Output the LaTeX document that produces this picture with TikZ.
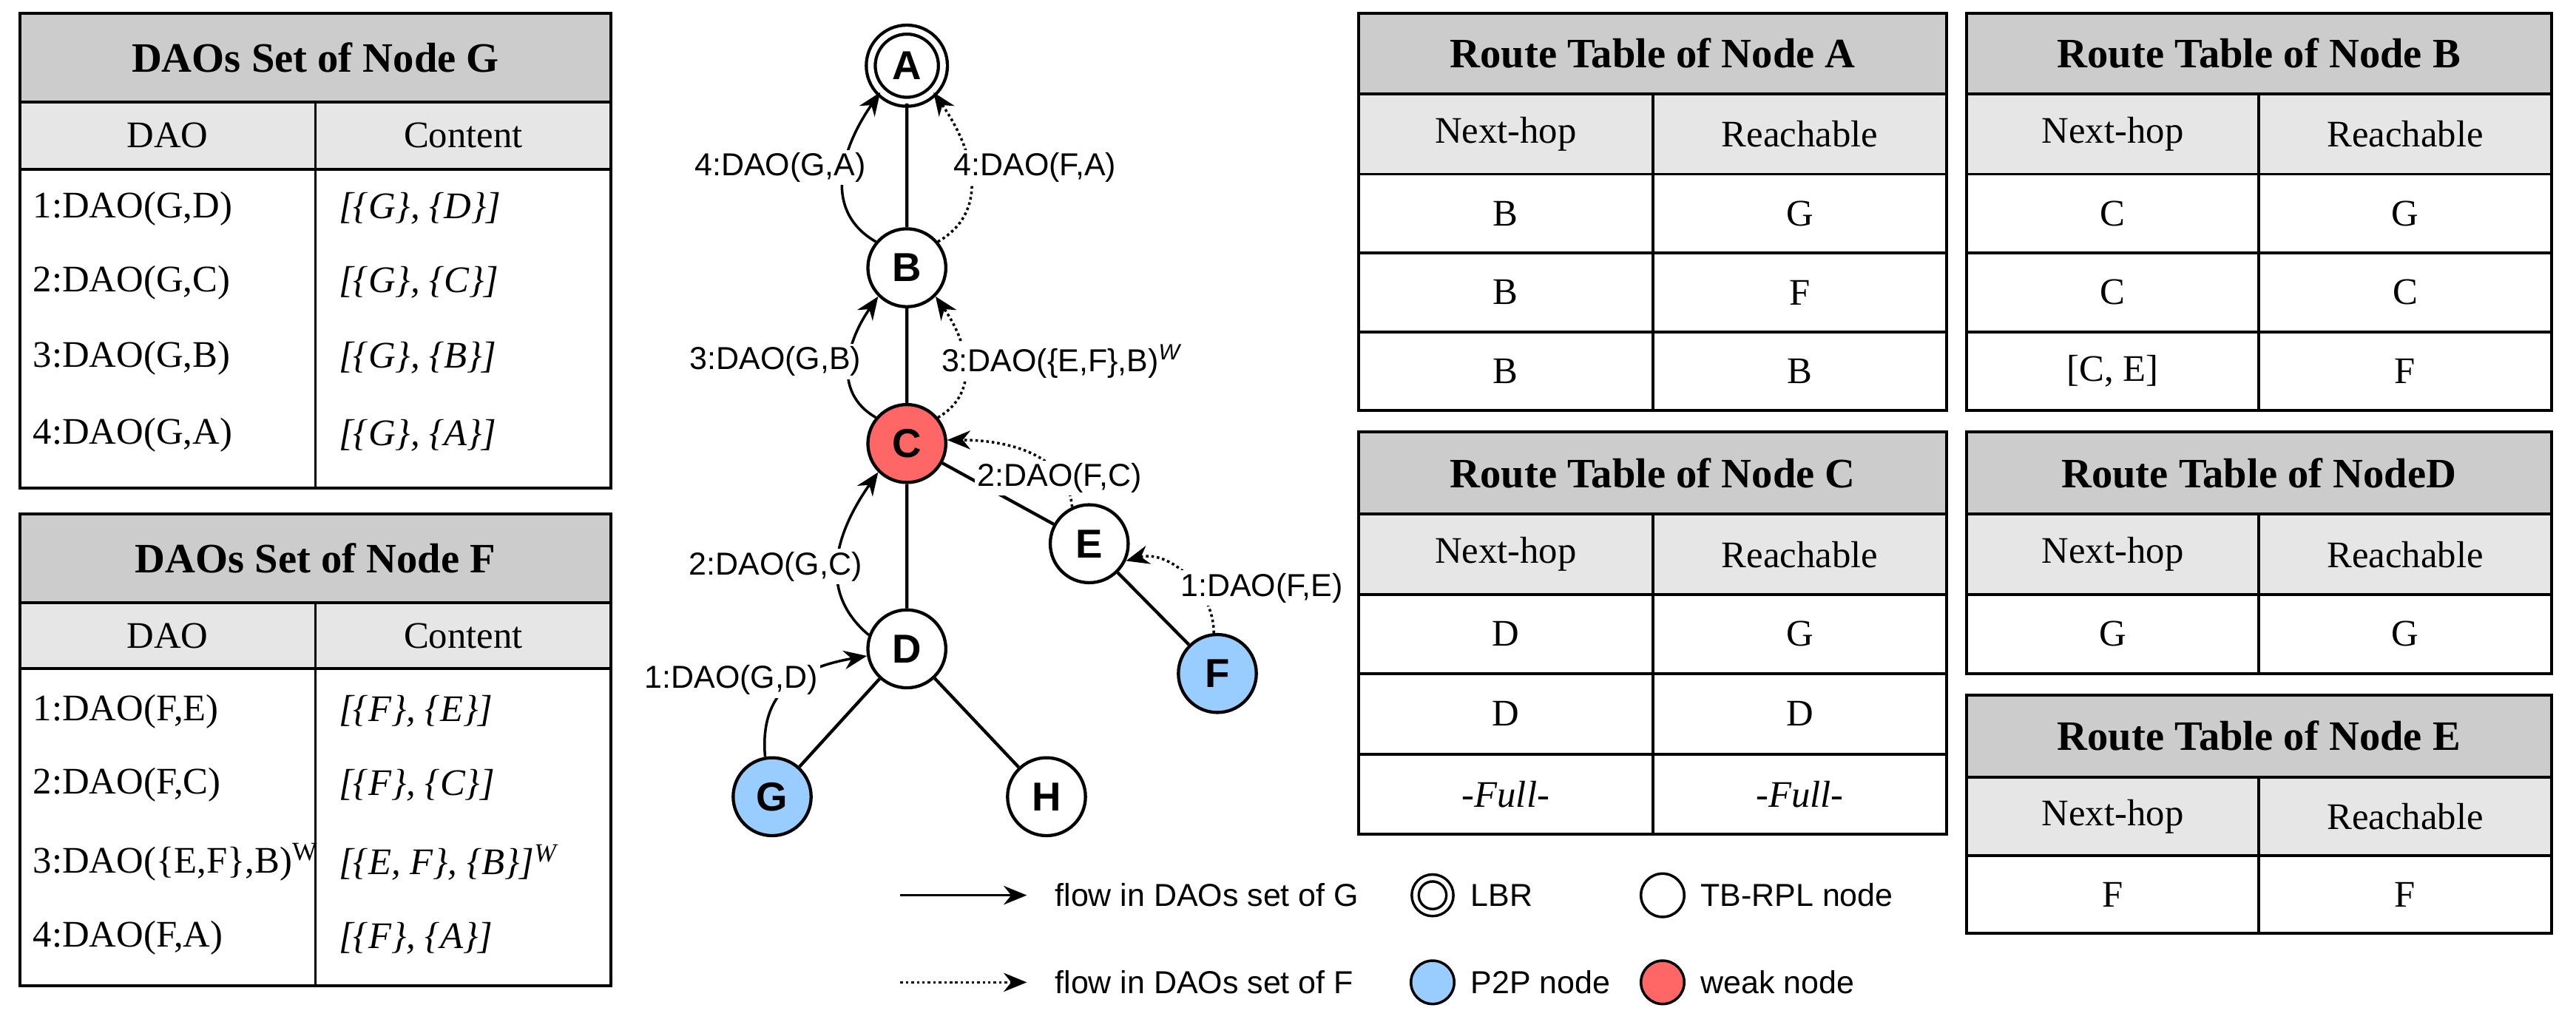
\documentclass[tikz,border=0pt]{standalone}
\usepackage{fontspec}
\setmainfont{Liberation Serif}
\newfontfamily\sff{Liberation Sans}
\usetikzlibrary{arrows.meta}
\definecolor{tg}{HTML}{CCCCCC}
\definecolor{th}{HTML}{E6E6E6}
\definecolor{pb}{HTML}{99CCFF}
\definecolor{wr}{HTML}{FF6666}
\tikzset{
 tt/.style={font=\fontsize{14.5}{16}\selectfont\bfseries},
 tb/.style={font=\fontsize{13}{15}\selectfont},
 ti/.style={font=\fontsize{13}{15}\selectfont\itshape},
 gn/.style={circle,draw,line width=1.1pt,minimum size=27pt,inner sep=0pt,fill=white,font=\sff\fontsize{14}{16}\selectfont\bfseries},
 lb/.style={font=\sff\fontsize{11}{13}\selectfont,fill=white,inner sep=1pt},
 lg/.style={font=\sff\fontsize{11}{13}\selectfont,anchor=west},
 fl/.style={-{Stealth[length=8pt,width=6.5pt]},line width=0.9pt},
 fd/.style={-{Stealth[length=8pt,width=6.5pt]},line width=0.9pt,densely dotted},
 ed/.style={line width=1.1pt},
 lc/.style={circle,draw,line width=0.9pt,minimum size=15pt,inner sep=0pt},
}
\newcommand{\ttitle}[5]{% x1 x2 y1 y2 text
 \fill[tg] (#1,#3) rectangle (#2,#4);
 \node[tt] at ({(#1+#2)/2},{(#3+#4)/2}) {#5};}
\newcommand{\thead}[6]{% x1 xs x2 y1 y2 first
 \fill[th] (#1,#4) rectangle (#3,#5);
 \node[tb] at ({(#1+#2)/2},{(#4+#5)/2}) {#6};}
\begin{document}
\begin{tikzpicture}[x=0.02cm,y=-0.02cm]
\useasboundingbox (0,0) rectangle (1568,622);
% ---- DAOs set of G
\ttitle{12}{372}{8}{62}{DAOs Set of Node G}
\thead{12}{192}{372}{62}{103}{DAO}
\node[tb] at (282,82.5) {Content};
\draw[line width=1pt] (12,8) rectangle (372,297);
\draw[line width=1pt] (12,62) -- (372,62) (12,103) -- (372,103) (192,62) -- (192,297);
\node[tb,anchor=west] at (14,127) {1:DAO(G,D)};
\node[tb,anchor=west] at (14,172) {2:DAO(G,C)};
\node[tb,anchor=west] at (14,218) {3:DAO(G,B)};
\node[tb,anchor=west] at (14,265) {4:DAO(G,A)};
\node[ti,anchor=west] at (200,127) {[\{G\}, \{D\}]};
\node[ti,anchor=west] at (200,172) {[\{G\}, \{C\}]};
\node[ti,anchor=west] at (200,218) {[\{G\}, \{B\}]};
\node[ti,anchor=west] at (200,265) {[\{G\}, \{A\}]};
% ---- DAOs set of F
\ttitle{12}{372}{313}{367}{DAOs Set of Node F}
\thead{12}{192}{372}{367}{407}{DAO}
\node[tb] at (282,387) {Content};
\draw[line width=1pt] (12,313) rectangle (372,600);
\draw[line width=1pt] (12,367) -- (372,367) (12,407) -- (372,407) (192,367) -- (192,600);
\node[tb,anchor=west] at (14,433) {1:DAO(F,E)};
\node[tb,anchor=west] at (14,478) {2:DAO(F,C)};
\node[tb,anchor=west] at (14,525) {3:DAO(\{E,F\},B)\textsuperscript{W}};
\node[tb,anchor=west] at (14,571) {4:DAO(F,A)};
\node[ti,anchor=west] at (200,433) {[\{F\}, \{E\}]};
\node[ti,anchor=west] at (200,478) {[\{F\}, \{C\}]};
\node[ti,anchor=west] at (200,525) {[\{E, F\}, \{B\}]\textsuperscript{W}};
\node[ti,anchor=west] at (200,571) {[\{F\}, \{A\}]};
% ---- Route tables
% A
\ttitle{827}{1185}{8}{57}{Route Table of Node A}
\thead{827}{1006}{1185}{57}{106}{Next-hop}\node[tb] at (1095.5,81.5) {Reachable};
\draw[line width=1pt] (827,8) rectangle (1185,250);
\draw[line width=1pt] (827,57)--(1185,57) (827,106)--(1185,106) (827,154)--(1185,154) (827,202)--(1185,202) (1006,57)--(1006,250);
\node[tb] at (916.5,130) {B};\node[tb] at (1095.5,130) {G};
\node[tb] at (916.5,178) {B};\node[tb] at (1095.5,178) {F};
\node[tb] at (916.5,226) {B};\node[tb] at (1095.5,226) {B};
% B
\ttitle{1197}{1553}{8}{57}{Route Table of Node B}
\thead{1197}{1375}{1553}{57}{106}{Next-hop}\node[tb] at (1464,81.5) {Reachable};
\draw[line width=1pt] (1197,8) rectangle (1553,250);
\draw[line width=1pt] (1197,57)--(1553,57) (1197,106)--(1553,106) (1197,154)--(1553,154) (1197,202)--(1553,202) (1375,57)--(1375,250);
\node[tb] at (1286,130) {C};\node[tb] at (1464,130) {G};
\node[tb] at (1286,178) {C};\node[tb] at (1464,178) {C};
\node[tb] at (1286,226) {[C, E]};\node[tb] at (1464,226) {F};
% C
\ttitle{827}{1185}{263}{313}{Route Table of Node C}
\thead{827}{1006}{1185}{313}{362}{Next-hop}\node[tb] at (1095.5,337.5) {Reachable};
\draw[line width=1pt] (827,263) rectangle (1185,508);
\draw[line width=1pt] (827,313)--(1185,313) (827,362)--(1185,362) (827,410)--(1185,410) (827,459)--(1185,459) (1006,313)--(1006,508);
\node[tb] at (916.5,386) {D};\node[tb] at (1095.5,386) {G};
\node[tb] at (916.5,434.5) {D};\node[tb] at (1095.5,434.5) {D};
\node[ti] at (916.5,483.5) {-Full-};\node[ti] at (1095.5,483.5) {-Full-};
% D
\ttitle{1197}{1553}{263}{313}{Route Table of NodeD}
\thead{1197}{1375}{1553}{313}{362}{Next-hop}\node[tb] at (1464,337.5) {Reachable};
\draw[line width=1pt] (1197,263) rectangle (1553,410);
\draw[line width=1pt] (1197,313)--(1553,313) (1197,362)--(1553,362) (1375,313)--(1375,410);
\node[tb] at (1286,386) {G};\node[tb] at (1464,386) {G};
% E
\ttitle{1197}{1553}{423}{473}{Route Table of Node E}
\thead{1197}{1375}{1553}{473}{521}{Next-hop}\node[tb] at (1464,497) {Reachable};
\draw[line width=1pt] (1197,423) rectangle (1553,568);
\draw[line width=1pt] (1197,473)--(1553,473) (1197,521)--(1553,521) (1375,473)--(1375,568);
\node[tb] at (1286,544.5) {F};\node[tb] at (1464,544.5) {F};
% ---- Graph
\node[gn,double,double distance=2pt,minimum size=25pt] (A) at (552,40) {A};
\node[gn] (B) at (552,163) {B};
\node[gn,fill=wr] (C) at (552,270) {C};
\node[gn] (D) at (552,395) {D};
\node[gn] (E) at (663,331) {E};
\node[gn,fill=pb] (F) at (741,410) {F};
\node[gn,fill=pb] (G) at (470,485) {G};
\node[gn] (H) at (637,485) {H};
\draw[ed] (A)--(B) (B)--(C) (C)--(D) (C)--(E) (E)--(F) (D)--(G) (D)--(H);
\draw[fl] (B.140) to[out=150,in=235,looseness=1.1] (A.225);
\draw[fd] (B.40) to[out=30,in=-55,looseness=1.1] (A.-45);
\draw[fl] (C.140) to[out=150,in=235,looseness=1.1] (B.225);
\draw[fd] (C.40) to[out=30,in=-55,looseness=1.1] (B.-45);
\draw[fl] (D.160) to[out=140,in=235,looseness=1.1] (C.225);
\draw[fd] (E.115) to[out=95,in=0] (C.5);
\draw[fd] (F.95) to[out=90,in=15] (E.-25);
\draw[fl] (G.100) to[out=95,in=190,looseness=1.2] (D.190);
\node[lb] (l1) at (475,102) {4:DAO(G,A)};
\node[lb] (l2) at (630,102) {4:DAO(F,A)};
\node[lb] (l3) at (472,220) {3:DAO(G,B)};
\node[lb] (l4) at (646,220) {3:DAO(\{E,F\},B)\textsuperscript{\itshape W}};
\node[lb] (l5) at (472,345) {2:DAO(G,C)};
\node[lb] (l6) at (645,291) {2:DAO(F,C)};
\node[lb] (l7) at (768,358) {1:DAO(F,E)};
\node[lb] (l8) at (445,414) {1:DAO(G,D)};
% ---- Legend
\coordinate (l1a) at (548,545); \coordinate (l1b) at (625,545);
\coordinate (l2a) at (548,598); \coordinate (l2b) at (625,598);
\draw[fl] (l1a)--(l1b); \draw[fd] (l2a)--(l2b);
\node[lg] at (636,545) {flow in DAOs set of G};
\node[lg] at (636,598) {flow in DAOs set of F};
\node[lc,double,double distance=1.5pt,minimum size=12pt] (la) at (872,545) {};
\node[lg] at (889,545) {LBR};
\node[lc] (lt) at (1012,545) {};
\node[lg] at (1029,545) {TB-RPL node};
\node[lc,fill=pb] (lp) at (872,598) {};
\node[lg] at (889,598) {P2P node};
\node[lc,fill=wr] (lw) at (1012,598) {};
\node[lg] at (1029,598) {weak node};
\end{tikzpicture}
\end{document}
